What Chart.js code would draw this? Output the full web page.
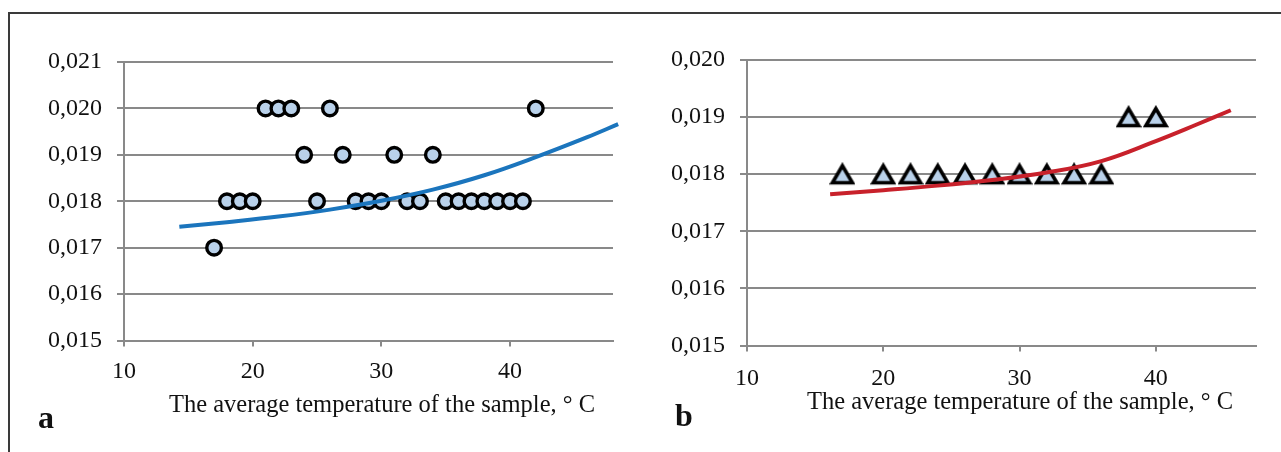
<!DOCTYPE html>
<html lang="en">
<head>
  <meta charset="UTF-8" />
  <title>Average temperature of the sample</title>
  <script src="https://cdn.jsdelivr.net/npm/chart.js"></script>
  <style>
    html, body {
      margin: 0;
      padding: 0;
      background: #fff;
      width: 1281px;
      height: 452px;
      overflow: hidden;
      font-family: 'Liberation Serif', 'Times New Roman', serif;
    }
    .frame {
      position: absolute;
      left: 8px;
      top: 12px;
      width: 1400px;
      height: 600px;
      border-left: 2px solid #3a3a3a;
      border-top: 2px solid #3a3a3a;
    }
    .panel {
      position: absolute;
      top: 0;
      height: 452px;
    }
    .xtitle {
      position: absolute;
      width: 600px;
      text-align: center;
      font-size: 24.5px;
      line-height: 24px;
      color: #111;
      white-space: nowrap;
    }
    .letter {
      position: absolute;
      font-weight: bold;
      font-size: 32px;
      line-height: 32px;
      color: #111;
    }
  </style>
</head>
<body>
  <div class="frame"></div>

  <div class="panel" style="left:0;width:640px"><canvas id="chartA" width="640" height="452"></canvas></div>
  <div class="panel" style="left:640px;width:641px"><canvas id="chartB" width="641" height="452"></canvas></div>

  <div class="xtitle" style="left:82px;top:392px">The average temperature of the sample, ° C</div>
  <div class="xtitle" style="left:720px;top:389px">The average temperature of the sample, ° C</div>
  <div class="letter" style="left:38px;top:401px">a</div>
  <div class="letter" style="left:675px;top:399px">b</div>

  <script>
    // panel a - measured points
    const tempA = [17, 18, 19, 20, 21, 22, 23, 24, 25, 26, 27, 28, 29, 30, 31, 32, 33, 34, 35, 36, 37, 38, 39, 40, 41, 42];
    const valA  = [0.017, 0.018, 0.018, 0.018, 0.020, 0.020, 0.020, 0.019, 0.018, 0.020, 0.019, 0.018, 0.018, 0.018,
                   0.019, 0.018, 0.018, 0.019, 0.018, 0.018, 0.018, 0.018, 0.018, 0.018, 0.018, 0.020];
    // panel a - trend line
    const trendTempA = [14.3, 18, 22, 26, 30, 34, 38, 42, 46, 48.4];
    const trendValA  = [0.01745, 0.01755, 0.01767, 0.01782, 0.01801, 0.01825, 0.01856, 0.01895, 0.01938, 0.01966];

    // panel b - measured points
    const tempB = [17, 20, 22, 24, 26, 28, 30, 32, 34, 36, 38, 40];
    const valB  = [0.018, 0.018, 0.018, 0.018, 0.018, 0.018, 0.018, 0.018, 0.018, 0.018, 0.019, 0.019];
    // panel b - trend line
    const trendTempB = [16.1, 20, 24, 28, 32, 36, 40, 43, 45.5];
    const trendValB  = [0.01765, 0.01772, 0.01780, 0.01790, 0.01803, 0.01823, 0.01858, 0.01887, 0.01912];

    const xTicks = [10, 20, 30, 40];

    const gridGray = '#898989';
    const fillBlue = '#b9d1ea';
    const tickFont = { family: "'Liberation Serif', 'Times New Roman', serif", size: 24 };

    const pairs = (xs, ys) => xs.map((x, i) => ({ x, y: ys[i] }));
    const commaFmt = v => Number(v).toFixed(3).replace('.', ',');

    // triangle marker, centred on its box like the original
    function triangleMarker() {
      const c = document.createElement('canvas');
      c.width = 26; c.height = 24;
      const g = c.getContext('2d');
      g.beginPath();
      g.moveTo(13, 3.5);
      g.lineTo(3, 20.5);
      g.lineTo(23, 20.5);
      g.closePath();
      g.fillStyle = fillBlue;
      g.fill();
      g.lineWidth = 3.6;
      g.lineJoin = 'miter';
      g.strokeStyle = '#000';
      g.stroke();
      return c;
    }

    function makeChart(id, opts) {
      return new Chart(document.getElementById(id), {
        data: {
          datasets: [
            {
              type: 'line',
              data: pairs(opts.trendX, opts.trendY),
              borderColor: opts.lineColor,
              borderWidth: 4,
              pointRadius: 0,
              tension: 0.4,
              fill: false,
              clip: 12
            },
            Object.assign({
              type: 'scatter',
              data: pairs(opts.x, opts.y),
              backgroundColor: fillBlue,
              borderColor: '#000'
            }, opts.marker)
          ]
        },
        options: {
          responsive: false,
          animation: false,
          layout: { padding: opts.padding },
          plugins: { legend: { display: false }, tooltip: { enabled: false } },
          scales: {
            x: {
              type: 'linear',
              min: 10,
              max: opts.xMax,
              afterBuildTicks: s => { s.ticks = xTicks.map(v => ({ value: v })); },
              afterFit: s => { s.height = opts.xHeight; },
              grid: { drawOnChartArea: false, color: gridGray, lineWidth: 2, tickLength: 6 },
              border: { color: gridGray, width: 2 },
              ticks: { font: tickFont, color: '#111', padding: opts.xPad, maxRotation: 0 }
            },
            y: {
              min: opts.yMin,
              max: opts.yMax,
              afterFit: s => { s.width = opts.yWidth; },
              grid: { color: gridGray, lineWidth: 2, tickLength: 7 },
              border: { color: gridGray, width: 2 },
              ticks: { stepSize: 0.001, font: tickFont, color: '#111', padding: 15, callback: commaFmt }
            }
          }
        }
      });
    }

    makeChart('chartA', {
      x: tempA, y: valA, trendX: trendTempA, trendY: trendValA,
      lineColor: '#1b75bd',
      marker: { pointRadius: 7.3, pointBorderWidth: 3.4, pointStyle: 'circle' },
      xMax: 48, yMin: 0.015, yMax: 0.021,
      padding: { left: 0, right: 27, top: 62, bottom: 0 },
      yWidth: 124, xHeight: 111.5, xPad: 11
    });

    makeChart('chartB', {
      x: tempB, y: valB, trendX: trendTempB, trendY: trendValB,
      lineColor: '#c8212b',
      marker: { pointStyle: triangleMarker(), pointRadius: 10 },
      xMax: 47.35, yMin: 0.015, yMax: 0.020,
      padding: { left: 0, right: 25, top: 60, bottom: 0 },
      yWidth: 107, xHeight: 106.5, xPad: 13
    });
  </script>
</body>
</html>
